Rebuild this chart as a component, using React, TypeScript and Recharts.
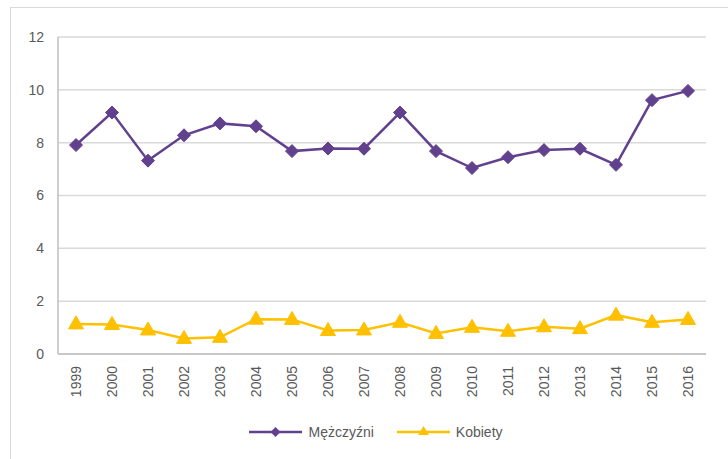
import React from 'react';
import { LineChart, Line, XAxis, YAxis, CartesianGrid, Legend } from 'recharts';

const years = ['1999','2000','2001','2002','2003','2004','2005','2006','2007','2008','2009','2010','2011','2012','2013','2014','2015','2016'];
const men = [7.91, 9.14, 7.32, 8.28, 8.73, 8.62, 7.68, 7.78, 7.77, 9.14, 7.68, 7.04, 7.45, 7.72, 7.77, 7.16, 9.61, 9.96];
const women = [1.14, 1.12, 0.91, 0.59, 0.63, 1.32, 1.31, 0.89, 0.91, 1.2, 0.78, 1.01, 0.86, 1.03, 0.96, 1.47, 1.2, 1.31];
const yTicks = [0, 2, 4, 6, 8, 10, 12];
const seriesNames = ['Mężczyźni', 'Kobiety'];

const data = years.map((y, i) => ({ year: y, men: men[i], women: women[i] }));

const PURPLE = '#61418e';
const YELLOW = '#ffc000';
const TEXT = '#595959';
const FONT = '"Liberation Sans", Arial, sans-serif';

const Diamond = (props: any) => {
  const { cx, cy } = props;
  if (cx == null || cy == null) return null;
  const r = 6.5;
  return <path d={`M${cx},${cy - r}L${cx + r},${cy}L${cx},${cy + r}L${cx - r},${cy}Z`} fill={PURPLE} stroke={PURPLE} strokeWidth={1} />;
};

const Triangle = (props: any) => {
  const { cx, cy } = props;
  if (cx == null || cy == null) return null;
  return <path d={`M${cx},${cy - 8}L${cx + 7.5},${cy + 5}L${cx - 7.5},${cy + 5}Z`} fill={YELLOW} stroke={YELLOW} strokeWidth={1} />;
};

const XTick = (props: any) => {
  const { x, y, payload } = props;
  return (
    <g transform={`translate(${x},${y})`}>
      <text transform="rotate(-90)" x={0} y={0} dy={5} textAnchor="end" fill={TEXT} fontSize={14} fontFamily={FONT}>
        {payload.value}
      </text>
    </g>
  );
};

const LegendContent = () => (
  <div style={{ height: 40, display: 'flex', justifyContent: 'center', alignItems: 'flex-start', paddingTop: 5, paddingLeft: 46, fontFamily: FONT, fontSize: 14, color: TEXT }}>
    <div style={{ display: 'flex', alignItems: 'center', marginRight: 23 }}>
      <svg width={53} height={16} style={{ marginRight: 6 }}>
        <line x1={0} y1={8} x2={53} y2={8} stroke={PURPLE} strokeWidth={2.5} />
        <path d="M26.5,3L31.5,8L26.5,13L21.5,8Z" fill={PURPLE} />
      </svg>
      <span>{seriesNames[0]}</span>
    </div>
    <div style={{ display: 'flex', alignItems: 'center' }}>
      <svg width={53} height={16} style={{ marginRight: 6 }}>
        <line x1={0} y1={8} x2={53} y2={8} stroke={YELLOW} strokeWidth={2.5} />
        <path d="M26.5,2L32,11L21,11Z" fill={YELLOW} />
      </svg>
      <span>{seriesNames[1]}</span>
    </div>
  </div>
);

export default function App() {
  return (
    <div style={{ position: 'absolute', left: 0, top: 0, width: 728, height: 459, overflow: 'hidden', background: '#fff' }}>
      <div style={{ position: 'absolute', left: 10, top: 7, width: 740, height: 480, border: '1px solid #d9d9d9', boxSizing: 'border-box' }} />
      <div style={{ position: 'absolute', left: 0, top: 0 }}>
        <LineChart width={728} height={459} data={data} margin={{ top: 37, right: 22, left: 0, bottom: 0 }}>
          <CartesianGrid vertical={false} stroke="#d9d9d9" strokeWidth={1.5} />
          <XAxis dataKey="year" tick={<XTick />} tickLine={false} axisLine={{ stroke: '#bfbfbf', strokeWidth: 1.5 }} height={65} interval={0} tickMargin={6}
            padding={{ left: 18, right: 18 }} />
          <YAxis domain={[0, 12]} ticks={yTicks} tickLine={false} axisLine={{ stroke: '#bfbfbf', strokeWidth: 1.5 }} width={58} tickMargin={8}
            tick={{ fill: TEXT, fontSize: 14, fontFamily: FONT }} />
          <Legend verticalAlign="bottom" content={<LegendContent />} wrapperStyle={{ height: 40 }} />
          <Line type="linear" dataKey="men" name={seriesNames[0]} stroke={PURPLE} strokeWidth={2.5} dot={<Diamond />} activeDot={false} isAnimationActive={false} />
          <Line type="linear" dataKey="women" name={seriesNames[1]} stroke={YELLOW} strokeWidth={2.5} dot={<Triangle />} activeDot={false} isAnimationActive={false} />
        </LineChart>
      </div>
    </div>
  );
}
